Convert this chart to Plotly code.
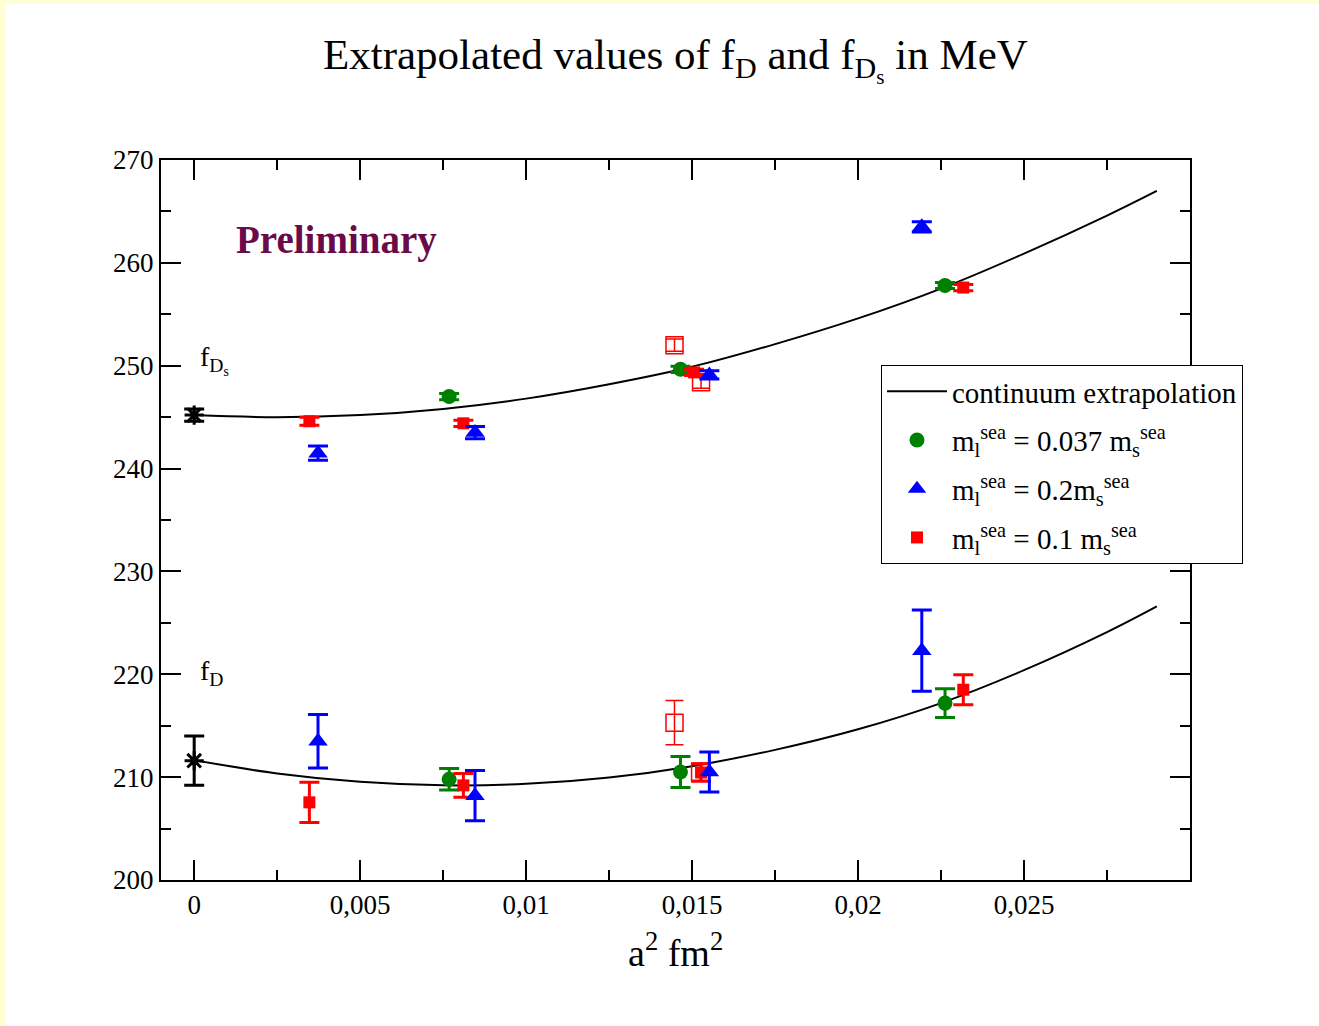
import plotly.graph_objects as go

# ---------------- data ----------------
x_fit = [0, 0.0025, 0.005, 0.0075, 0.01, 0.0125, 0.015, 0.0175, 0.02, 0.0225, 0.025, 0.0275, 0.029]
fDs_fit = [245.2, 245.0, 245.2, 245.8, 246.8, 248.2, 249.9, 252.1, 254.6, 257.5, 260.9, 264.6, 267.0]
fD_fit = [211.65, 210.36, 209.55, 209.21, 209.35, 209.97, 211.07, 212.65, 214.65, 217.2, 220.4, 224.1, 226.6]

x_cont = [0.0]
fDs_cont = [245.2]
fDs_cont_err = [0.6]
fD_cont = [211.6]
fD_cont_err = [2.4]

x_green = [0.00768, 0.01465, 0.02262]
fDs_green = [247.0, 249.65, 257.8]
fDs_green_err = [0.3, 0.3, 0.3]
fD_green = [209.8, 210.5, 217.2]
fD_green_err = [1.05, 1.5, 1.4]

x_blue = [0.00373, 0.00846, 0.01552, 0.02192]
fDs_blue = [241.5, 243.5, 249.1, 263.5]
fDs_blue_err = [0.7, 0.6, 0.4, 0.5]
fD_blue = [213.5, 208.2, 210.5, 222.3]
fD_blue_err = [2.6, 2.45, 1.95, 3.95]

x_red_fDs = [0.00347, 0.00811, 0.01506, 0.02317]
fDs_red = [244.6, 244.4, 249.35, 257.6]
fDs_red_err = [0.4, 0.3, 0.3, 0.3]
x_red_fD = [0.00347, 0.00811, 0.01527, 0.02317]
fD_red = [207.55, 209.2, 210.45, 218.5]
fD_red_err = [1.95, 1.15, 0.85, 1.45]

x_open_fDs = [0.01447, 0.01527]
fDs_open = [252.0, 248.4]
fDs_open_err = [0.6, 0.6]
x_open_fD = [0.01447, 0.01524]
fD_open = [215.3, 210.5]
fD_open_err = [2.15, 0.85]

x_ticks = [0, 0.005, 0.01, 0.015, 0.02, 0.025]
x_ticktext = ["0", "0,005", "0,01", "0,015", "0,02", "0,025"]
y_ticks = [200, 210, 220, 230, 240, 250, 260, 270]

GREEN = "#008000"
BLUE = "#0000ff"
RED = "#ff0000"
FONT = "Liberation Serif"

fig = go.Figure()

# continuum extrapolation curves
for yy in (fDs_fit, fD_fit):
    fig.add_trace(go.Scatter(x=x_fit, y=yy, mode="lines", line=dict(color="black", width=2, shape="spline"),
                             showlegend=False, hoverinfo="skip"))


def pts(x, y, err, color, symbol, size, lw=0, ew=3, cw=10, open_=False):
    marker = dict(color=color, symbol=symbol, size=size)
    if open_:
        marker = dict(color=color, symbol=symbol, size=size, line=dict(color=color, width=lw))
    else:
        marker["line"] = dict(width=0)
    fig.add_trace(go.Scatter(x=x, y=y, mode="markers", marker=marker,
                             error_y=dict(type="data", array=err, visible=True, color=color,
                                          thickness=ew, width=cw),
                             showlegend=False))


# open squares
pts(x_open_fDs, fDs_open, fDs_open_err, RED, "square-open", 17, lw=1.5, ew=1.5, cw=9, open_=True)
pts(x_open_fD, fD_open, fD_open_err, RED, "square-open", 17, lw=1.5, ew=1.5, cw=9, open_=True)
# green circles
pts(x_green, fDs_green, fDs_green_err, GREEN, "circle", 15)
pts(x_green, fD_green, fD_green_err, GREEN, "circle", 15)
# red squares
pts(x_red_fDs, fDs_red, fDs_red_err, RED, "square", 12)
pts(x_red_fD, fD_red, fD_red_err, RED, "square", 12)
# blue triangles
pts(x_blue, fDs_blue, fDs_blue_err, BLUE, "triangle-up", 17)
pts(x_blue, fD_blue, fD_blue_err, BLUE, "triangle-up", 17)
# continuum values
pts(x_cont, fDs_cont, fDs_cont_err, "black", "asterisk-open", 16, lw=3, open_=True)
pts(x_cont, fD_cont, fD_cont_err, "black", "asterisk-open", 16, lw=3, open_=True)

# legend entries
fig.add_trace(go.Scatter(x=[None], y=[None], mode="lines", line=dict(color="black", width=2),
                         name="continuum extrapolation", legendgroup="a"))
fig.add_trace(go.Scatter(x=[None], y=[None], mode="markers", marker=dict(color=GREEN, symbol="circle", size=15),
                         name="m<sub>l</sub><sup>sea</sup> = 0.037 m<sub>s</sub><sup>sea</sup>", legendgroup="b"))
fig.add_trace(go.Scatter(x=[None], y=[None], mode="markers", marker=dict(color=BLUE, symbol="triangle-up", size=16),
                         name="m<sub>l</sub><sup>sea</sup> = 0.2m<sub>s</sub><sup>sea</sup>", legendgroup="c"))
fig.add_trace(go.Scatter(x=[None], y=[None], mode="markers", marker=dict(color=RED, symbol="square", size=12),
                         name="m<sub>l</sub><sup>sea</sup> = 0.1 m<sub>s</sub><sup>sea</sup>", legendgroup="d"))

axis_common = dict(showline=True, linecolor="black", linewidth=2, mirror="ticks", ticks="inside",
                   ticklen=20, tickwidth=2, tickcolor="black", showgrid=False, zeroline=False,
                   tickfont=dict(family=FONT, size=27, color="black"))

fig.update_xaxes(range=[-0.001, 0.030], tickvals=x_ticks, ticktext=x_ticktext,
                 minor=dict(ticks="inside", ticklen=10, tickwidth=2, tickcolor="black", dtick=0.0025, tick0=0),
                 **axis_common)
fig.update_yaxes(range=[200, 270], tickvals=y_ticks,
                 minor=dict(ticks="inside", ticklen=10, tickwidth=2, tickcolor="black", dtick=5, tick0=200),
                 **axis_common)

W, H = 1319, 1026
L, R, T, B = 161, 1190, 160, 880


def px(x):
    return (x - L) / (R - L)


def py(y):
    return (B - y) / (B - T)


fig.update_layout(
    width=W, height=H,
    margin=dict(l=L, r=W - R, t=T, b=H - B),
    paper_bgcolor="white", plot_bgcolor="white",
    font=dict(family=FONT, color="black"),
    showlegend=True,
    legend=dict(x=px(881), y=py(365), xanchor="left", yanchor="top",
                bordercolor="black", borderwidth=1, bgcolor="white",
                font=dict(family=FONT, size=29, color="black"), tracegroupgap=8,
                itemwidth=60),
    shapes=[
        dict(type="rect", xref="paper", yref="paper", x0=px(0), x1=px(W), y0=py(4), y1=py(0),
             fillcolor="#ffffd4", line=dict(width=0), layer="below"),
        dict(type="rect", xref="paper", yref="paper", x0=px(0), x1=px(6), y0=py(H), y1=py(0),
             fillcolor="#ffffd4", line=dict(width=0), layer="below"),
    ],
    annotations=[
        dict(text="Extrapolated values of f<sub>D</sub> and f<sub>D<sub>s</sub></sub> in MeV",
             xref="paper", yref="paper", x=px(675), y=py(60), xanchor="center", yanchor="middle",
             showarrow=False, font=dict(family=FONT, size=43, color="black")),
        dict(text="Preliminary", xref="paper", yref="paper", x=px(336), y=py(240),
             xanchor="center", yanchor="middle", showarrow=False,
             font=dict(family=FONT, size=39, color="#6b0a48", weight="bold")),
        dict(text="f<sub>D<sub>s</sub></sub>", xref="paper", yref="paper", x=px(198), y=py(360),
             xanchor="left", yanchor="middle", showarrow=False,
             font=dict(family=FONT, size=28, color="black")),
        dict(text="f<sub>D</sub>", xref="paper", yref="paper", x=px(198), y=py(672),
             xanchor="left", yanchor="middle", showarrow=False,
             font=dict(family=FONT, size=28, color="black")),
        dict(text="a<sup>2</sup> fm<sup>2</sup>", xref="paper", yref="paper", x=px(675), y=py(950),
             xanchor="center", yanchor="middle", showarrow=False,
             font=dict(family=FONT, size=38, color="black")),
    ],
)

fig.write_html("out.html")
